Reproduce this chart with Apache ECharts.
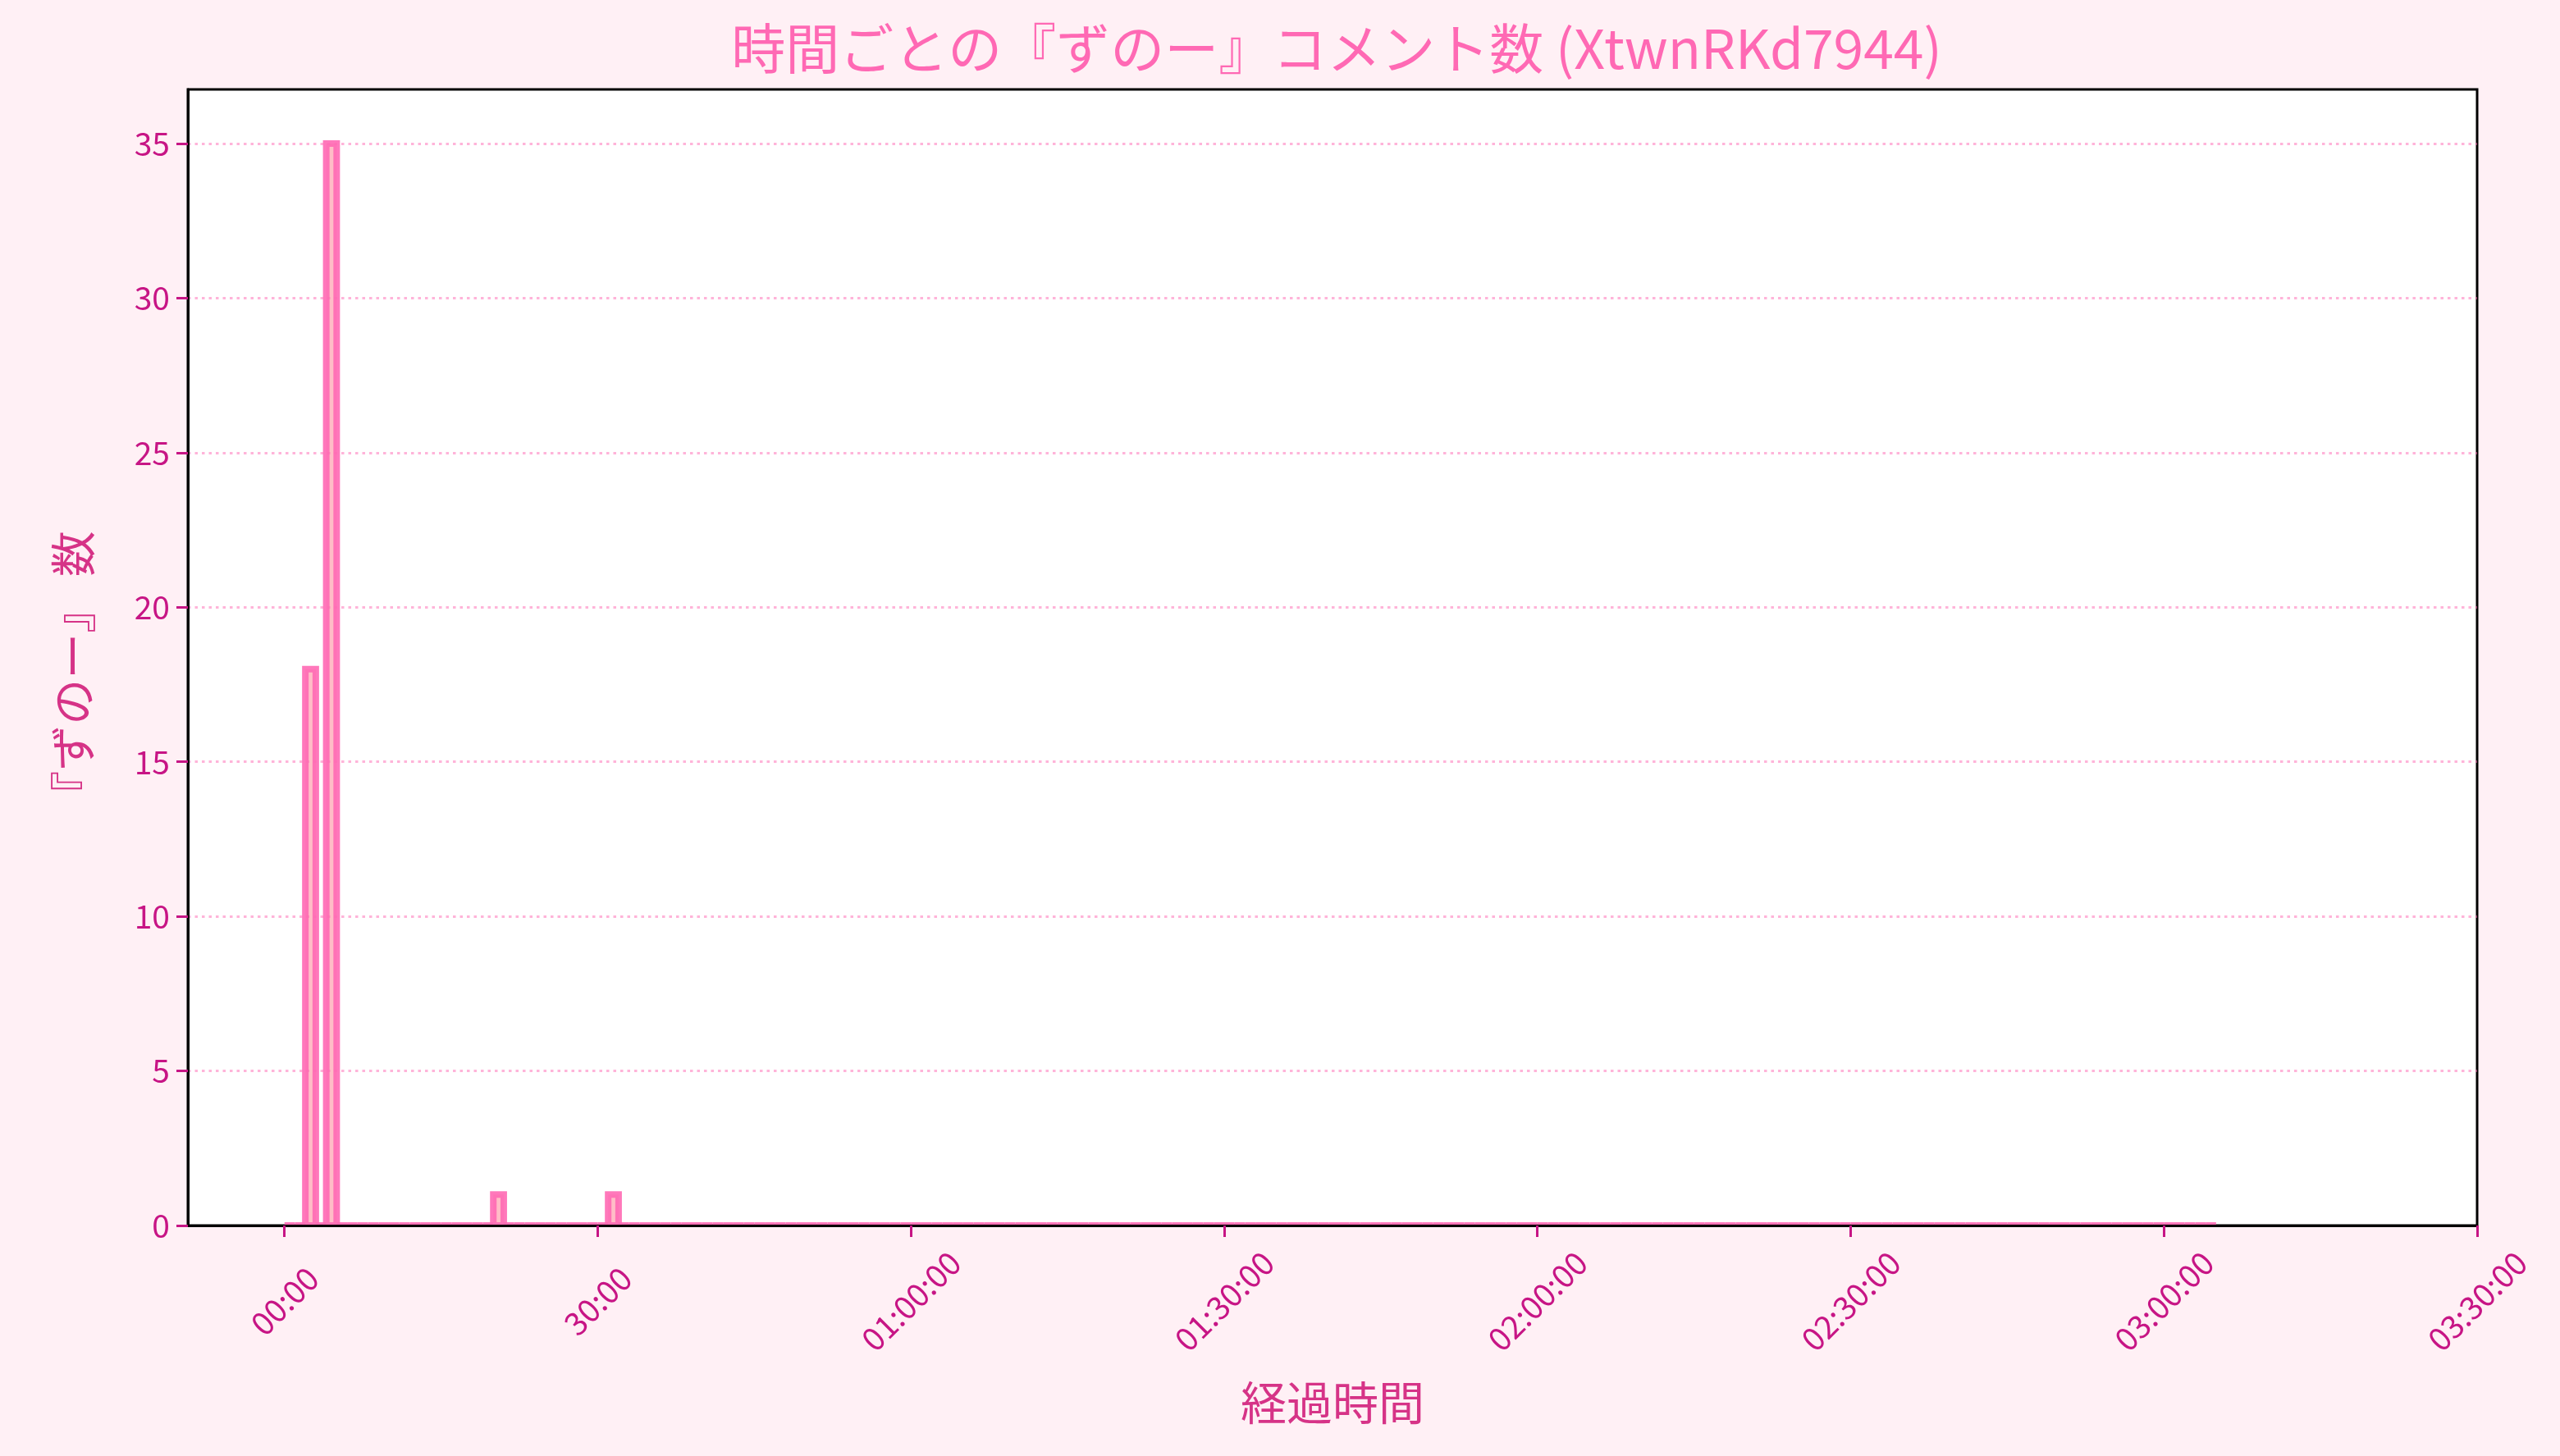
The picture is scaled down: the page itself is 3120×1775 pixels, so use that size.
<!DOCTYPE html>
<html>
<head>
<meta charset="utf-8">
<script src="https://cdn.jsdelivr.net/npm/echarts@6/dist/echarts.min.js"></script>
<style>
html,body{margin:0;padding:0;background:#fff0f5;}
#chart{width:3120px;height:1775px;}
</style>
</head>
<body>
<div id="chart"></div>
<script>
// Chart data (x in minutes since start, 1-minute bins)
var titleText = '時間ごとの『ずのー』コメント数 (XtwnRKd7944)';
var xAxisName = '経過時間';
var yAxisName = '『ずのー』 数';
var binWidthMinutes = 1;
// Counts per 1-minute bin, bins 0..184 (00:00 to 03:05:00)
var binCounts = [
  0,0,18,0,35,0,0,0,0,0, 0,0,0,0,0,0,0,0,0,0,
  1,0,0,0,0,0,0,0,0,0, 0,1,0,0,0,0,0,0,0,0,
  0,0,0,0,0,0,0,0,0,0, 0,0,0,0,0,0,0,0,0,0,
  0,0,0,0,0,0,0,0,0,0, 0,0,0,0,0,0,0,0,0,0,
  0,0,0,0,0,0,0,0,0,0, 0,0,0,0,0,0,0,0,0,0,
  0,0,0,0,0,0,0,0,0,0, 0,0,0,0,0,0,0,0,0,0,
  0,0,0,0,0,0,0,0,0,0, 0,0,0,0,0,0,0,0,0,0,
  0,0,0,0,0,0,0,0,0,0, 0,0,0,0,0,0,0,0,0,0,
  0,0,0,0,0,0,0,0,0,0, 0,0,0,0,0,0,0,0,0,0,
  0,0,0,0,0
];
var xTickMinutes = [0, 30, 60, 90, 120, 150, 180, 210];
var xTickLabels = ['00:00', '30:00', '01:00:00', '01:30:00', '02:00:00', '02:30:00', '03:00:00', '03:30:00'];
var yTicks = [0, 5, 10, 15, 20, 25, 30, 35];

var xMin = -9.25, xMax = 210;
var yMin = 0, yMax = 36.75;

var seriesData = binCounts.map(function (c, i) {
  return [i * binWidthMinutes, (i + 1) * binWidthMinutes, c];
});

var FONT = '"Noto Sans CJK JP", "Noto Sans", sans-serif';
var chart = echarts.init(document.getElementById('chart'), null, {renderer: 'canvas'});

chart.setOption({
  backgroundColor: '#fff0f5',
  animation: false,
  title: {
    text: titleText,
    left: 1624,
    top: 21,
    textAlign: 'center',
    textStyle: {color: '#ff69b4', fontSize: 66, fontWeight: 'normal', fontFamily: FONT}
  },
  grid: {
    left: 229, top: 109, width: 2790, height: 1385,
    show: true, backgroundColor: '#ffffff', borderColor: '#000000', borderWidth: 3,
    containLabel: false
  },
  xAxis: {
    type: 'value',
    min: xMin, max: xMax,
    z: 5,
    name: xAxisName,
    nameLocation: 'middle',
    nameGap: 188,
    nameTextStyle: {color: '#d63387', fontSize: 56, fontFamily: FONT},
    axisLine: {show: true, onZero: false, lineStyle: {color: '#000000', width: 3}},
    axisTick: {show: true, customValues: xTickMinutes, length: 14, inside: false, lineStyle: {color: '#c71585', width: 3}},
    axisLabel: {
      show: true,
      customValues: xTickMinutes,
      rotate: 45,
      align: 'center',
      verticalAlign: 'middle',
      margin: 92,
      color: '#c71585',
      fontSize: 39,
      fontFamily: FONT,
      formatter: function (v) {
        var idx = xTickMinutes.indexOf(v);
        return idx >= 0 ? xTickLabels[idx] : '';
      }
    },
    splitLine: {show: false}
  },
  yAxis: {
    type: 'value',
    min: yMin, max: yMax,
    interval: 5,
    z: 5,
    name: yAxisName,
    nameLocation: 'middle',
    nameRotate: 90,
    nameGap: 112,
    nameTextStyle: {color: '#d63387', fontSize: 56, fontFamily: FONT, padding: [0, 40, 0, 0]},
    axisLine: {show: true, onZero: false, lineStyle: {color: '#000000', width: 3}},
    axisTick: {show: true, customValues: yTicks, length: 14, lineStyle: {color: '#c71585', width: 3}},
    axisLabel: {
      customValues: yTicks,
      margin: 22, color: '#c71585', fontSize: 39, fontFamily: FONT
    },
    splitLine: {show: true, lineStyle: {color: 'rgba(255,105,180,0.5)', width: 3, type: [3.5, 5]}}
  },
  series: [{
    type: 'custom',
    clip: true,
    z: 2,
    data: seriesData,
    encode: {x: [0, 1], y: 2},
    renderItem: function (params, api) {
      var x0 = api.value(0), x1 = api.value(1), y = api.value(2);
      var pTop = api.coord([x0, y]);
      var pBot = api.coord([x1, 0]);
      return {
        type: 'rect',
        shape: {x: pTop[0], y: pTop[1], width: pBot[0] - pTop[0], height: pBot[1] - pTop[1]},
        style: {fill: 'rgba(255,182,193,0.9)', stroke: 'rgba(255,105,180,0.9)', lineWidth: 8, lineJoin: 'miter'}
      };
    }
  }]
});
</script>
</body>
</html>
